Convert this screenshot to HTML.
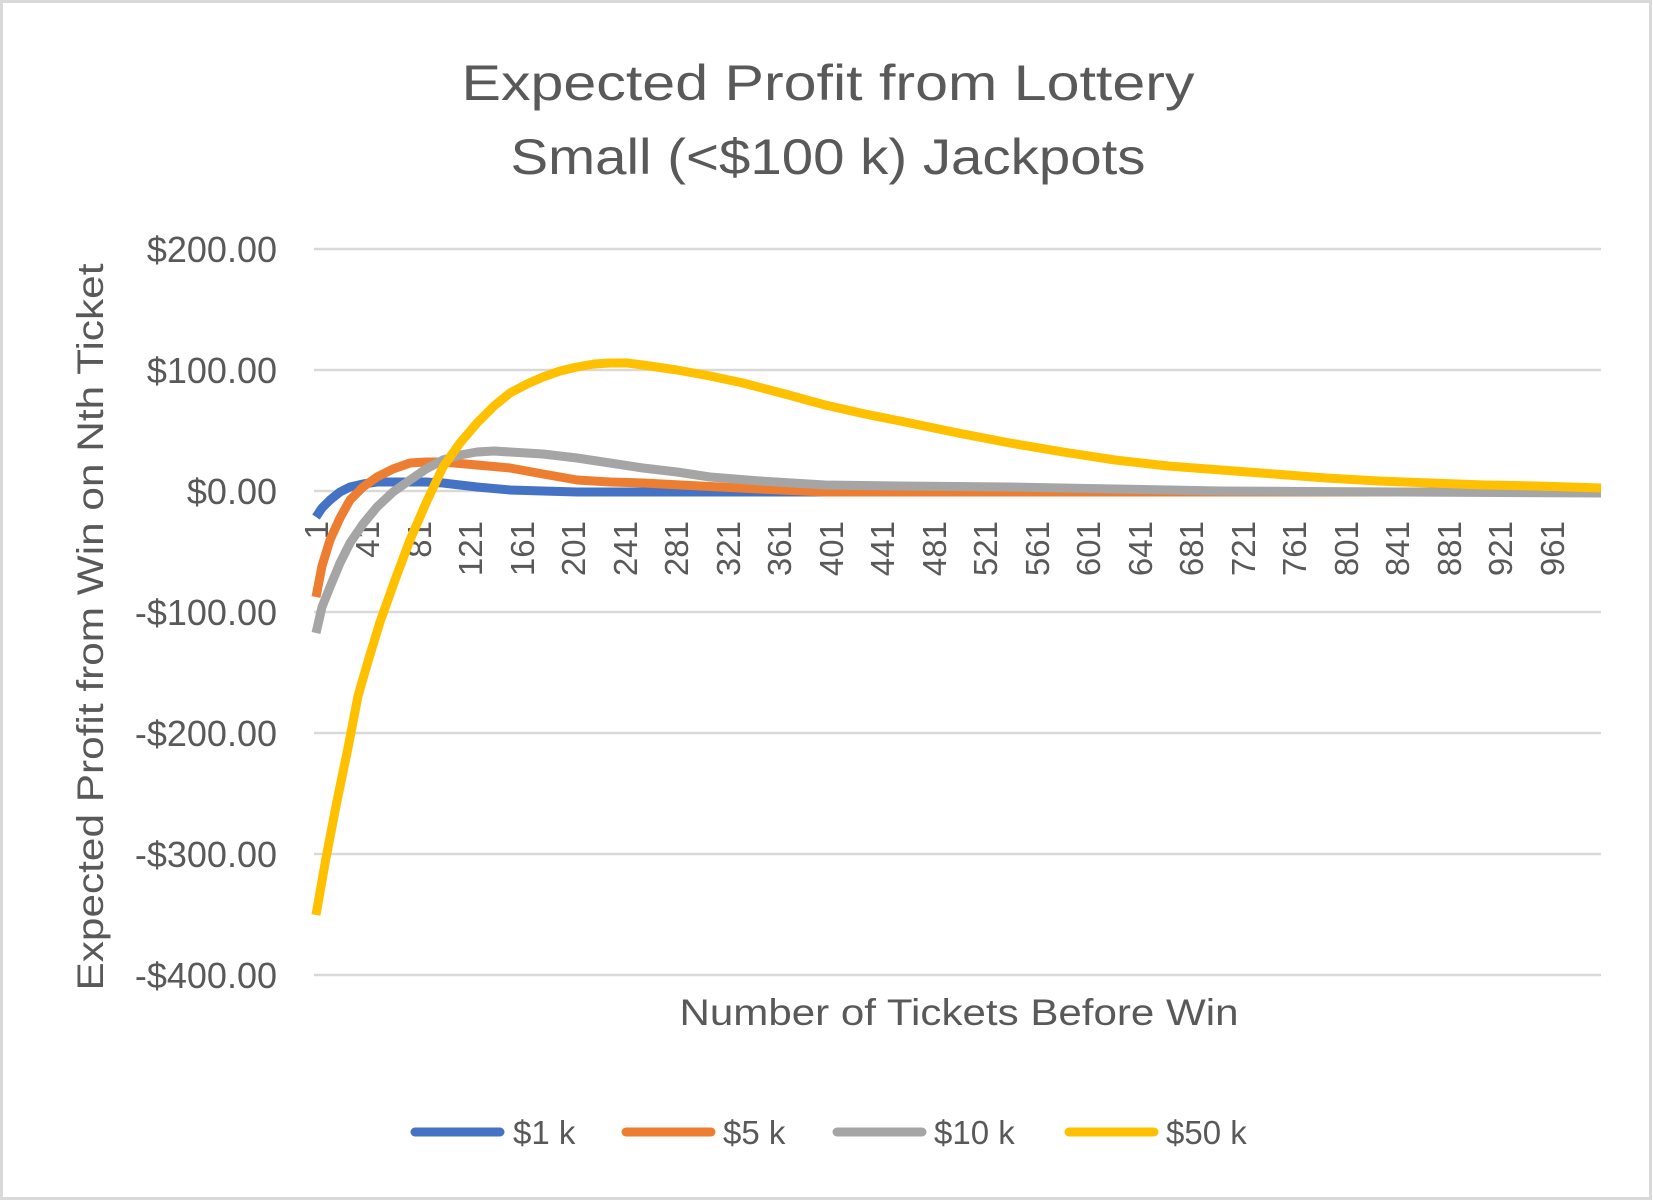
<!DOCTYPE html>
<html><head><meta charset="utf-8"><style>
html,body{margin:0;padding:0;background:#fff;}
svg{display:block;}
text{font-family:"Liberation Sans",sans-serif;fill:#595959;}
</style></head><body>
<svg width="1653" height="1201" viewBox="0 0 1653 1201" xmlns="http://www.w3.org/2000/svg">
<rect x="1.5" y="1.5" width="1649" height="1197" fill="#fff" stroke="#D9D9D9" stroke-width="3"/>
<text x="828" y="100" font-size="50" text-anchor="middle" textLength="733" lengthAdjust="spacingAndGlyphs">Expected Profit from Lottery</text>
<text x="828" y="174" font-size="50" text-anchor="middle" textLength="635" lengthAdjust="spacingAndGlyphs">Small (&lt;$100 k) Jackpots</text>
<g stroke="#D9D9D9" stroke-width="2.5">
<line x1="314" x2="1601" y1="249" y2="249"/>
<line x1="314" x2="1601" y1="370" y2="370"/>
<line x1="314" x2="1601" y1="491" y2="491"/>
<line x1="314" x2="1601" y1="612" y2="612"/>
<line x1="314" x2="1601" y1="733" y2="733"/>
<line x1="314" x2="1601" y1="854" y2="854"/>
<line x1="314" x2="1601" y1="975" y2="975"/>
</g>
<g font-size="36" text-anchor="end">
<text x="277" y="262">$200.00</text>
<text x="277" y="383">$100.00</text>
<text x="277" y="504">$0.00</text>
<text x="277" y="625">-$100.00</text>
<text x="277" y="746">-$200.00</text>
<text x="277" y="867">-$300.00</text>
<text x="277" y="988">-$400.00</text>
</g>
<text transform="translate(103,627) rotate(-90)" font-size="37" text-anchor="middle" textLength="727" lengthAdjust="spacingAndGlyphs">Expected Profit from Win on Nth Ticket</text>
<text x="959" y="1025" font-size="37" text-anchor="middle" textLength="559" lengthAdjust="spacingAndGlyphs">Number of Tickets Before Win</text>
<g font-size="33" text-anchor="end">
<text transform="translate(328,521) rotate(-90)">1</text>
<text transform="translate(379,521) rotate(-90)">41</text>
<text transform="translate(431,521) rotate(-90)">81</text>
<text transform="translate(482,521) rotate(-90)">121</text>
<text transform="translate(534,521) rotate(-90)">161</text>
<text transform="translate(585,521) rotate(-90)">201</text>
<text transform="translate(637,521) rotate(-90)">241</text>
<text transform="translate(688,521) rotate(-90)">281</text>
<text transform="translate(740,521) rotate(-90)">321</text>
<text transform="translate(791,521) rotate(-90)">361</text>
<text transform="translate(843,521) rotate(-90)">401</text>
<text transform="translate(894,521) rotate(-90)">441</text>
<text transform="translate(946,521) rotate(-90)">481</text>
<text transform="translate(997,521) rotate(-90)">521</text>
<text transform="translate(1049,521) rotate(-90)">561</text>
<text transform="translate(1100,521) rotate(-90)">601</text>
<text transform="translate(1152,521) rotate(-90)">641</text>
<text transform="translate(1203,521) rotate(-90)">681</text>
<text transform="translate(1255,521) rotate(-90)">721</text>
<text transform="translate(1306,521) rotate(-90)">761</text>
<text transform="translate(1358,521) rotate(-90)">801</text>
<text transform="translate(1409,521) rotate(-90)">841</text>
<text transform="translate(1461,521) rotate(-90)">881</text>
<text transform="translate(1512,521) rotate(-90)">921</text>
<text transform="translate(1564,521) rotate(-90)">961</text>
</g>
<g fill="none" stroke-width="9" stroke-linejoin="round">
<polyline stroke="#4472C4" points="316,517 322,508 330,500 340,492 350,487 363,484 377,482 393,482 410,482 426,482 443,483 477,487 510,490 543,491 577,492 700,492 900,492 1200,492 1601,492"/>
<polyline stroke="#ED7D31" points="316,597 322,566 330,540 340,518 350,500 363,487 377,477 393,469 410,463 426,462 443,462 477,465 510,468 543,474 577,480 610,482 643,483 700,486 760,489 825,492 1000,492 1601,492"/>
<polyline stroke="#A5A5A5" points="316,633 322,607 330,587 340,563 350,543 363,524 377,507 393,492 410,480 426,469 443,460 460,455 477,452 494,451 510,452 543,454 577,458 610,463 643,468 677,472 710,477 760,481 825,485 900,486 1010,487 1115,489 1221,491 1400,492 1601,493"/>
<polyline stroke="#FFC000" points="316,915 326,858 337,801 348,748 358,696 369,658 380,622 395,580 410,540 426,503 443,467 460,443 477,423 494,406 510,393 527,384 543,377 560,371 577,367 594,364 610,363 627,363 643,365 677,370 710,376 743,383 785,394 825,405 865,414 905,422 958,433 1010,443 1063,452 1115,460 1168,466 1221,470 1274,474 1326,478 1379,481 1431,483 1484,485 1536,486 1601,488"/>
</g>
<g stroke-width="9" stroke-linecap="round">
<line x1="415" x2="500" y1="1132" y2="1132" stroke="#4472C4"/>
<line x1="626" x2="711" y1="1132" y2="1132" stroke="#ED7D31"/>
<line x1="837" x2="922" y1="1132" y2="1132" stroke="#A5A5A5"/>
<line x1="1069" x2="1154" y1="1132" y2="1132" stroke="#FFC000"/>
</g>
<g font-size="33">
<text x="513" y="1144">$1 k</text>
<text x="723" y="1144">$5 k</text>
<text x="934" y="1144">$10 k</text>
<text x="1166" y="1144">$50 k</text>
</g>
</svg>
</body></html>
